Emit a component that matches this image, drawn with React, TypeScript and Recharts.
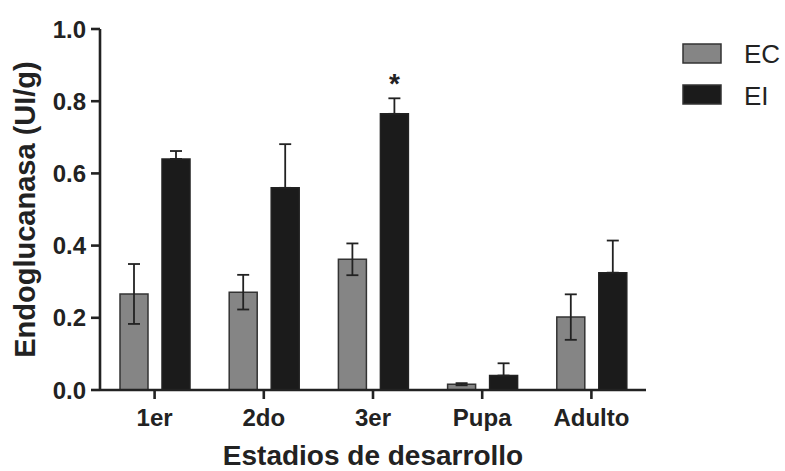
import React from 'react';
import { BarChart, Bar, XAxis, YAxis, ErrorBar, Legend, LabelList } from 'recharts';

const categories = ['1er', '2do', '3er', 'Pupa', 'Adulto'];
const ecValues = [0.266, 0.271, 0.362, 0.016, 0.202];
const ecErrors = [0.083, 0.048, 0.044, 0.003, 0.063];
const eiValues = [0.64, 0.56, 0.765, 0.04, 0.325];
const eiErrors = [0.022, 0.121, 0.043, 0.034, 0.089];
const significance = ['', '', '*', '', ''];
const yTicks = [0, 0.2, 0.4, 0.6, 0.8, 1.0];

// EI error bars are drawn upward only (the lower half is hidden inside the black bar)
const data = categories.map((c, i) => ({
  name: c,
  EC: ecValues[i],
  ecErr: ecErrors[i],
  EI: eiValues[i],
  eiErr: [0, eiErrors[i]],
  sig: significance[i],
}));

const FONT = '"Liberation Sans", Arial, sans-serif';
const INK = '#222';
const GRAY = '#858585';
const BLACK = '#1b1b1b';

const YLabel = (props: any) => {
  const vb = props.viewBox;
  const x = vb.x + 35;
  const y = vb.y + vb.height / 2;
  return (
    <text x={x} y={y} transform={`rotate(-90 ${x} ${y})`} textAnchor="middle"
      fontFamily={FONT} fontWeight="bold" fontSize={29} fill={INK}>
      Endoglucanasa (UI/g)
    </text>
  );
};

const XLabel = (props: any) => {
  const vb = props.viewBox;
  const x = vb.x + vb.width / 2;
  const y = vb.y + 75;
  return (
    <text x={x} y={y} textAnchor="middle" fontFamily={FONT} fontWeight="bold" fontSize={28} fill={INK}>
      Estadios de desarrollo
    </text>
  );
};

const LegendContent = (props: any) => {
  const items = props.payload || [];
  return (
    <svg width={100} height={75} style={{ overflow: 'visible', display: 'block' }}>
      {items.map((it: any, i: number) => (
        <g key={it.value}>
          <rect x={1} y={1 + i * 41} width={38} height={19} fill={it.color} stroke="#333" strokeWidth={1.5} />
          <text x={62} y={20 + i * 42} fontFamily={FONT} fontSize={26} fill={INK}>{it.value}</text>
        </g>
      ))}
    </svg>
  );
};

const StarLabel = (props: any) => {
  const { x, y, width, value } = props;
  if (!value) return null;
  return (
    <text x={x + width / 2} y={y - 21} textAnchor="middle" fontFamily={FONT} fontWeight="bold" fontSize={28} fill={INK}>
      {value}
    </text>
  );
};

export default function App() {
  return (
    <div style={{ width: 785, height: 471, background: '#fff' }}>
      <style>{`body{margin:0;background:#fff}`}</style>
      <BarChart width={785} height={471} data={data}
        margin={{ top: 29, right: 39, bottom: 0, left: 0 }}
        barSize={28} barGap={14}>
        <XAxis dataKey="name" height={81} axisLine={{ stroke: INK, strokeWidth: 2.6 }}
          tickLine={{ stroke: INK, strokeWidth: 2.6 }} tickSize={9} tickMargin={10}
          tick={{ fontFamily: FONT, fontWeight: 'bold', fontSize: 24, fill: INK }}
          label={<XLabel />} />
        <YAxis width={100} domain={[0, 1]} ticks={yTicks} tickFormatter={(v: number) => v.toFixed(1)}
          axisLine={{ stroke: INK, strokeWidth: 2.6 }} tickLine={{ stroke: INK, strokeWidth: 2.6 }}
          tickSize={9} tickMargin={5}
          tick={{ fontFamily: FONT, fontWeight: 'bold', fontSize: 24, fill: INK }}
          label={<YLabel />} />
        <Legend layout="vertical" align="right" verticalAlign="middle" content={<LegendContent />}
          wrapperStyle={{ position: 'absolute', left: 682, top: 43, width: 100, height: 75 }} />
        <Bar dataKey="EC" name="EC" fill={GRAY} stroke="#333" strokeWidth={1.5} isAnimationActive={false}>
          <ErrorBar dataKey="ecErr" width={6} stroke={INK} strokeWidth={1.8} direction="y" />
        </Bar>
        <Bar dataKey="EI" name="EI" fill={BLACK} stroke="#222" strokeWidth={1.5} isAnimationActive={false}>
          <ErrorBar dataKey="eiErr" width={6} stroke={INK} strokeWidth={1.8} direction="y" />
          <LabelList dataKey="sig" content={<StarLabel />} />
        </Bar>
      </BarChart>
    </div>
  );
}
